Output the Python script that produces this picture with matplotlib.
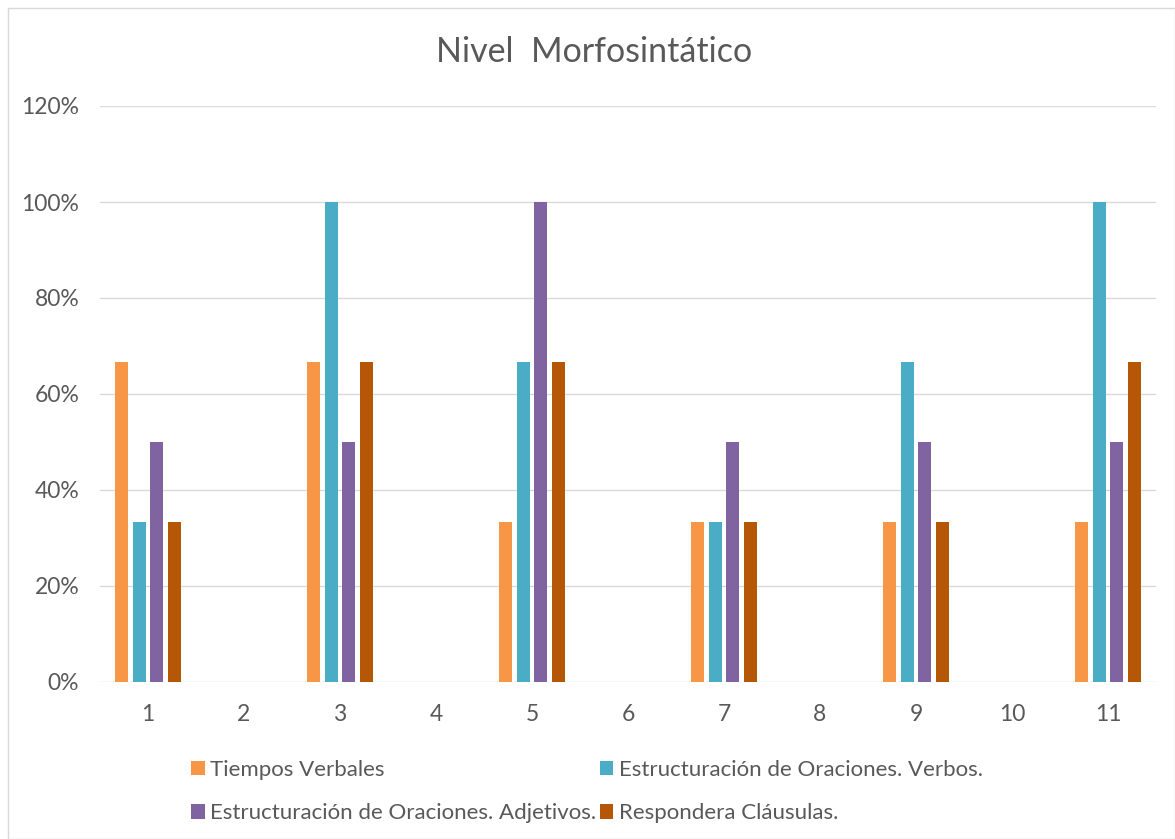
import numpy as np
import matplotlib.pyplot as plt
from matplotlib.patches import Rectangle

plt.rcParams['font.family'] = ['Lato', 'DejaVu Sans']

categorias = ["1", "2", "3", "4", "5", "6", "7", "8", "9", "10", "11"]
tiempos = [0.667, 0, 0.667, 0, 0.333, 0, 0.333, 0, 0.333, 0, 0.333]
verbos = [0.333, 0, 1.0, 0, 0.667, 0, 0.333, 0, 0.667, 0, 1.0]
adjetivos = [0.5, 0, 0.5, 0, 1.0, 0, 0.5, 0, 0.5, 0, 0.5]
clausulas = [0.333, 0, 0.667, 0, 0.667, 0, 0.333, 0, 0.333, 0, 0.667]

series = [
    ("Tiempos Verbales", tiempos, "#f79646"),
    ("Estructuración de Oraciones. Verbos.", verbos, "#4bacc6"),
    ("Estructuración de Oraciones. Adjetivos.", adjetivos, "#8064a2"),
    ("Respondera Cláusulas.", clausulas, "#b65708"),
]

gris = "#595959"

fig = plt.figure(figsize=(11.75, 8.39), dpi=100)
fig.patches.append(Rectangle((0.007, 0.0), 0.993, 0.99, transform=fig.transFigure,
                             fill=False, edgecolor="#d9d9d9", linewidth=1))
ax = fig.add_axes([100/1175, 1 - 682/839, 1056/1175, 576/839])

x = np.arange(1, len(categorias) + 1)
ancho = 0.135
paso = 0.185
handles = []
for i, (nombre, vals, color) in enumerate(series):
    b = ax.bar(x + (i - 1.5) * paso, vals, ancho, color=color, label=nombre, zorder=3)
    handles.append(b)

ax.set_xlim(0.5, 11.5)
ax.set_ylim(0, 1.2)
ax.set_yticks(np.arange(0, 1.21, 0.2))
ax.set_yticklabels([f"{int(round(v*100))}%" for v in np.arange(0, 1.21, 0.2)])
ax.set_xticks(x)
ax.set_xticklabels(categorias)
ax.grid(axis='y', color="#d9d9d9", linewidth=1, zorder=0)
for s in ax.spines.values():
    s.set_visible(False)
ax.tick_params(length=0, labelsize=16.5, colors=gris, pad=16)
ax.tick_params(axis='y', pad=15)

fig.text(0.506, 1 - 52/839, "Nivel  Morfosintático", ha='center', va='center',
         fontsize=24.5, color=gris)

# orden por filas: la leyenda se llena por columnas
orden = [0, 2, 1, 3]
leg = fig.legend(handles=[handles[i] for i in orden], loc='upper center',
                 bbox_to_anchor=(0.4996, 1 - 740/839),
                 ncol=2, frameon=False, fontsize=16, handlelength=0.6, handleheight=0.6,
                 handletextpad=0.25, columnspacing=0.15, labelspacing=1.05)
for t in leg.get_texts():
    t.set_color(gris)

fig.savefig("out.png", dpi=100)
